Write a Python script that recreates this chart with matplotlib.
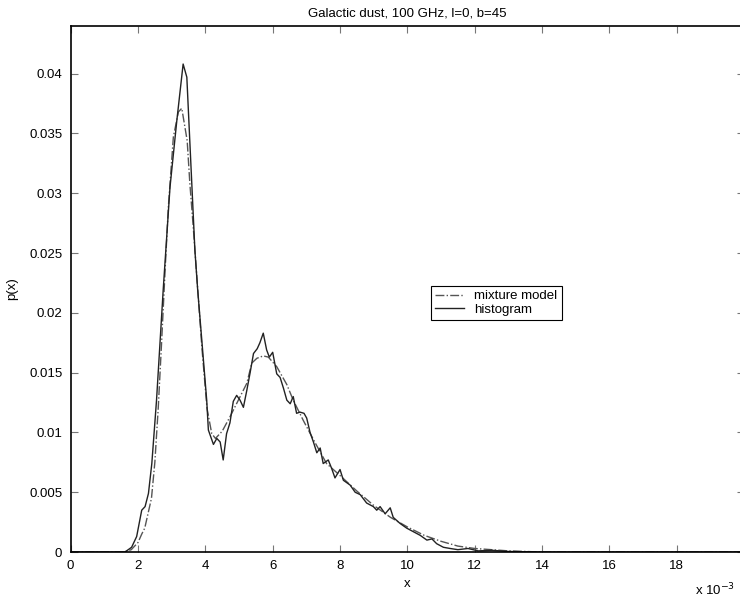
import matplotlib
matplotlib.use("Agg")
import matplotlib.pyplot as plt

# x in units of 1e-3, p(x)
hist_x = [0.0, 1.6, 1.66, 1.81, 1.96, 2.11, 2.21, 2.31, 2.41, 2.5, 2.55, 2.75, 2.95, 3.15,
          3.34, 3.45, 3.69, 3.77, 4.04, 4.09, 4.19, 4.24, 4.34, 4.44, 4.53, 4.63, 4.73,
          4.83, 4.93, 5.03, 5.13, 5.23, 5.33, 5.43, 5.54, 5.62, 5.72, 5.82, 5.9, 6.0,
          6.12, 6.22, 6.32, 6.42, 6.52, 6.61, 6.71, 6.81, 6.93, 7.01, 7.11, 7.21, 7.31,
          7.41, 7.5, 7.65, 7.75, 7.85, 8.0, 8.1, 8.3, 8.45, 8.6, 8.79, 8.99, 9.09, 9.19,
          9.34, 9.49, 9.58, 9.78, 9.98, 10.18, 10.38, 10.58, 10.73, 10.87, 11.07, 11.27,
          11.5, 11.8, 12.1, 12.5, 13.0, 14.0, 20.0]
hist_p = [0.0, 0.0, 0.0001, 0.0004, 0.0013, 0.0035, 0.0038, 0.0049, 0.0074, 0.0108, 0.0127,
          0.022, 0.0305, 0.036, 0.0408, 0.0397, 0.0252, 0.022, 0.0127, 0.0102, 0.0094,
          0.0090, 0.0095, 0.0092, 0.0077, 0.0099, 0.0108, 0.0126, 0.0131, 0.0127, 0.0121,
          0.0135, 0.0150, 0.0166, 0.0170, 0.0175, 0.0183, 0.0169, 0.0163, 0.0167, 0.0149,
          0.0146, 0.0137, 0.0127, 0.0124, 0.0130, 0.0116, 0.0117, 0.0116, 0.0112, 0.0100,
          0.0092, 0.0083, 0.0087, 0.0074, 0.0077, 0.0070, 0.0062, 0.0069, 0.0060, 0.0056,
          0.0050, 0.0048, 0.0041, 0.0038, 0.0035, 0.0038, 0.0032, 0.0037, 0.0029, 0.0024,
          0.0020, 0.0017, 0.0014, 0.0010, 0.0011, 0.0007, 0.0004, 0.0003, 0.0002, 0.0003,
          0.0001, 0.00015, 0.00005, 0.0, 0.0]

model_x = [0.0, 1.6, 1.8, 2.0, 2.11, 2.2, 2.4, 2.5, 2.6, 2.7, 2.8, 2.9, 3.05, 3.2, 3.3,
           3.46, 3.54, 3.64, 3.74, 3.9, 4.05, 4.19, 4.3, 4.5, 4.73, 4.98, 5.23, 5.38,
           5.53, 5.72, 5.87, 6.12, 6.42, 6.61, 6.91, 7.21, 7.6, 8.0, 8.5, 9.0, 9.5, 10.0,
           10.5, 11.0, 11.5, 12.0, 13.0, 14.0, 20.0]
model_p = [0.0, 0.0, 0.0002, 0.0008, 0.0015, 0.002, 0.0045, 0.0075, 0.012, 0.0175, 0.0233,
           0.0288, 0.0347, 0.0368, 0.0371, 0.0344, 0.0308, 0.0272, 0.0233, 0.0170, 0.0120,
           0.0099, 0.0095, 0.0101, 0.0113, 0.0127, 0.0141, 0.0158, 0.0162, 0.0164, 0.0163,
           0.0155, 0.0140, 0.0127, 0.0110, 0.0094, 0.0074, 0.0064, 0.0051, 0.0039, 0.0029,
           0.0021, 0.0014, 0.0009, 0.0005, 0.0003, 0.0001, 0.0, 0.0]

x_ticks = [0, 2, 4, 6, 8, 10, 12, 14, 16, 18, 20]
x_tick_labels = ["0", "2", "4", "6", "8", "10", "12", "14", "16", "18", ""]
y_ticks = [0, 0.005, 0.01, 0.015, 0.02, 0.025, 0.03, 0.035, 0.04]
y_tick_labels = ["0", "0.005", "0.01", "0.015", "0.02", "0.025", "0.03", "0.035", "0.04"]

plt.rcParams["font.family"] = ["Liberation Sans", "DejaVu Sans"]
plt.rcParams["font.size"] = 9.5

fig = plt.figure(figsize=(7.4, 6.06), dpi=100)
# axes runs slightly past the right edge, as in the cropped original
ax = fig.add_axes([0.0955, 0.089, 0.91, 0.8685])

ax.plot(model_x, model_p, color="#555555", linestyle="-.", linewidth=1.0,
        label="mixture model")
ax.plot(hist_x, hist_p, color="#222222", linestyle="-", linewidth=1.0,
        label="histogram")

ax.set_xlim(0, 20)
ax.set_ylim(0, 0.044)
ax.set_xticks(x_ticks)
ax.set_xticklabels(x_tick_labels)
ax.set_yticks(y_ticks)
ax.set_yticklabels(y_tick_labels)
ax.tick_params(direction="in", top=True, right=True, length=5, width=0.8,
               color="#777777", pad=6)
for s in ax.spines.values():
    s.set_linewidth(1.2)

ax.set_title("Galactic dust, 100 GHz, l=0, b=45", fontsize=9.5, pad=7)
ax.set_xlabel("x", labelpad=4)
ax.set_ylabel("p(x)", labelpad=8)
fig.text(0.993, 0.018, r"x 10$^{-3}$", fontsize=9.5, ha="right")

leg = ax.legend(loc="center", bbox_to_anchor=(0.632, 0.473), frameon=True,
                fancybox=False, edgecolor="black", framealpha=1,
                handlelength=2.2, borderpad=0.3, labelspacing=0.1, handletextpad=0.8)
leg.get_frame().set_linewidth(0.8)

fig.savefig("out.png", dpi=100)
